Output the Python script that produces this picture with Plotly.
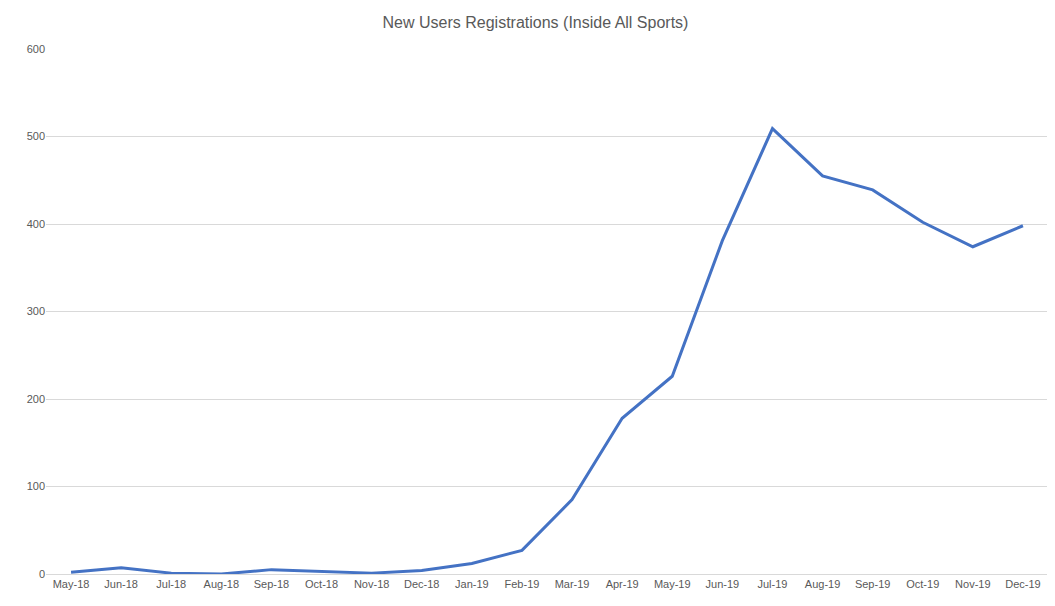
import plotly.graph_objects as go

months = ["May-18", "Jun-18", "Jul-18", "Aug-18", "Sep-18", "Oct-18", "Nov-18", "Dec-18",
          "Jan-19", "Feb-19", "Mar-19", "Apr-19", "May-19", "Jun-19", "Jul-19", "Aug-19",
          "Sep-19", "Oct-19", "Nov-19", "Dec-19"]
registrations = [2, 7, 1, 0, 5, 3, 1, 4, 12, 27, 85, 178, 226, 381, 509, 455, 439, 402, 374, 398]

fig = go.Figure(go.Scatter(
    x=months, y=registrations, mode="lines",
    line=dict(color="#4472C4", width=3),
))

fig.update_layout(
    width=1055, height=606,
    paper_bgcolor="white", plot_bgcolor="white",
    margin=dict(l=38, r=15, t=41, b=40),
    font=dict(family="Liberation Sans, Arial", size=11, color="#595959"),
    title=dict(text="New Users Registrations (Inside All Sports)", x=0.5, y=0.985,
               yanchor="top", font=dict(size=16, color="#595959")),
    showlegend=False,
    xaxis=dict(showgrid=False, showline=True, linecolor="#d9d9d9", ticks="",
               range=[-0.5, 19.5], tickfont=dict(color="#595959")),
    yaxis=dict(range=[0, 600], dtick=100, gridcolor="#d9d9d9", zeroline=False,
               ticks="", showline=False, tickfont=dict(color="#595959")),
)

fig.write_html("out.html")
